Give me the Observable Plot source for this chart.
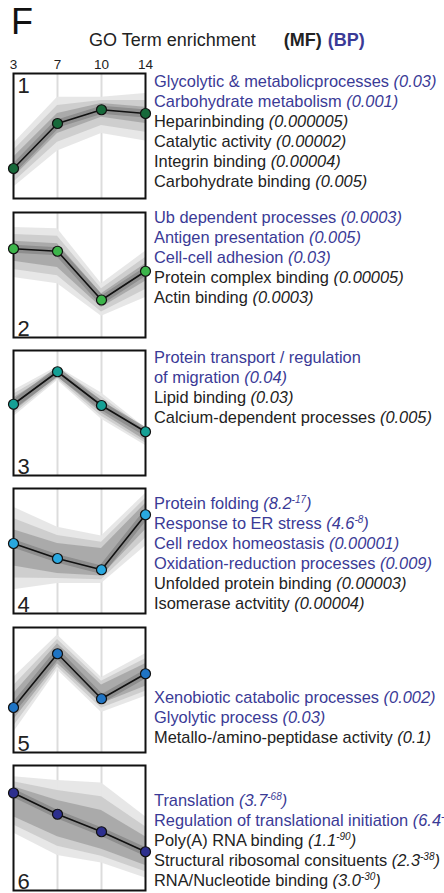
<!DOCTYPE html>
<html><head><meta charset="utf-8">
<script src="https://cdn.jsdelivr.net/npm/d3@7"></script>
<script src="https://cdn.jsdelivr.net/npm/@observablehq/plot@0.6"></script>
<style>
body{margin:0;background:#fff;font-family:"Liberation Sans",Arial,sans-serif;}
#wrap{position:relative;width:444px;height:893px;overflow:hidden;}
.abs{position:absolute;}
.lbl{position:absolute;left:154px;font-size:16.4px;line-height:20px;white-space:nowrap;color:#222;}
.bp{color:#3a3a96;}
.p{font-style:italic;}
sup{font-size:10px;vertical-align:6px;line-height:0;}
#F{left:11px;top:1px;font-size:36px;color:#111;}
#title{left:89px;top:30px;font-size:18px;color:#222;white-space:nowrap;}
#title b{margin-left:28px;}
#title b.bp{color:#3a3a96;margin-left:6px;}
</style></head>
<body><div id="wrap">
<div id="F" class="abs">F</div>
<div id="title" class="abs">GO Term enrichment<b>(MF)</b><b class="bp">(BP)</b></div>
</div>
<script>
const days = ["3","7","10","14"];
const panelNumbers = ["1","2","3","4","5","6"];
const dotColors = ["#17693a","#3cb54a","#15a095","#29a8e0","#1f74c4","#2d2f8e"];
// centroid profile per cluster (normalized 0..1)
const profiles = [
  [0.24,0.60,0.71,0.68],
  [0.71,0.69,0.30,0.53],
  [0.57,0.83,0.56,0.35],
  [0.56,0.44,0.35,0.79],
  [0.36,0.79,0.43,0.63],
  [0.78,0.61,0.47,0.31]
];
// envelope of member profiles (outer = faint, inner = dense)
const outerLow = [
  [0.09,0.38,0.52,0.46],
  [0.48,0.43,0.17,0.32],
  [0.47,0.76,0.45,0.24],
  [0.19,0.24,0.24,0.54],
  [0.16,0.66,0.32,0.45],
  [0.46,0.28,0.22,0.10]
];
const outerHigh = [
  [0.44,0.81,0.81,0.84],
  [0.88,0.87,0.43,0.69],
  [0.68,0.87,0.66,0.38],
  [0.85,0.69,0.62,0.96],
  [0.60,0.94,0.60,0.79],
  [0.91,0.88,0.86,0.59]
];
const innerLow = [
  [0.17,0.52,0.65,0.60],
  [0.61,0.56,0.24,0.45],
  [0.51,0.79,0.50,0.28],
  [0.38,0.32,0.30,0.67],
  [0.26,0.71,0.39,0.53],
  [0.59,0.43,0.33,0.20]
];
const innerHigh = [
  [0.33,0.68,0.76,0.73],
  [0.77,0.75,0.35,0.59],
  [0.62,0.84,0.60,0.36],
  [0.67,0.56,0.52,0.88],
  [0.47,0.87,0.54,0.71],
  [0.83,0.72,0.64,0.43]
];
// GO terms: [category, name, p-value] ; "^" marks exponent
const terms = [
  [["BP","Glycolytic & metabolicprocesses","0.03"],["BP","Carbohydrate metabolism","0.001"],["MF","Heparinbinding","0.000005"],["MF","Catalytic activity","0.00002"],["MF","Integrin binding","0.00004"],["MF","Carbohydrate binding","0.005"]],
  [["BP","Ub dependent processes","0.0003"],["BP","Antigen presentation","0.005"],["BP","Cell-cell adhesion","0.03"],["MF","Protein complex binding","0.00005"],["MF","Actin binding","0.0003"]],
  [["BP","Protein transport / regulation",null],["BP","of migration","0.04"],["MF","Lipid binding","0.03"],["MF","Calcium-dependent processes","0.005"]],
  [["BP","Protein folding","8.2^-17"],["BP","Response to ER stress","4.6^-8"],["BP","Cell redox homeostasis","0.00001"],["BP","Oxidation-reduction processes","0.009"],["MF","Unfolded protein binding","0.00003"],["MF","Isomerase actvitity","0.00004"]],
  [["BP","Xenobiotic catabolic processes","0.002"],["BP","Glyolytic process","0.03"],["MF","Metallo-/amino-peptidase activity","0.1"]],
  [["BP","Translation","3.7^-68"],["BP","Regulation of translational initiation","6.4^-9"],["MF","Poly(A) RNA binding","1.1^-90"],["MF","Structural ribosomal consituents","2.3^-38"],["MF","RNA/Nucleotide binding","3.0^-30"]]
];

const wrap = document.getElementById("wrap");
const panelTop = [73,212,350,488,627,765];
const textBaseline = [86,222,362,508,702,805];
const PW = 132, PH = 125, M = 8;

profiles.forEach((prof, i) => {
  const rows = days.map((d, k) => ({day: d, v: prof[k], olo: outerLow[i][k], ohi: outerHigh[i][k], ilo: innerLow[i][k], ihi: innerHigh[i][k],
    mlo: (outerLow[i][k] + innerLow[i][k]) / 2, mhi: (outerHigh[i][k] + innerHigh[i][k]) / 2}));
  const top = i === 0 ? 24 : M;
  const chart = Plot.plot({
    width: PW + 2*M, height: PH + top + M,
    marginLeft: M, marginRight: M, marginTop: top, marginBottom: M,
    style: {background: "transparent", overflow: "visible", fontFamily: "Liberation Sans, Arial, sans-serif", color: "#222"},
    x: {type: "point", domain: days, padding: 0, label: null},
    y: {domain: [0, 1], axis: null},
    marks: [
      i === 0 ? Plot.axisX({anchor: "top", tickSize: 0, tickPadding: 5, fontSize: 13.5, fill: "#222", label: null}) : Plot.axisX([], {}),
      Plot.ruleX(["7","10"], {stroke: "#dcdcdc", strokeWidth: 2}),
      Plot.areaY(rows, {x: "day", y1: "olo", y2: "ohi", fill: "#e6e6e6", fillOpacity: 0.95}),
      Plot.areaY(rows, {x: "day", y1: "mlo", y2: "mhi", fill: "#cbcbcb", fillOpacity: 0.9}),
      Plot.areaY(rows, {x: "day", y1: "ilo", y2: "ihi", fill: "#a6a6a6", fillOpacity: 0.9}),
      Plot.line(rows, {x: "day", y: "v", stroke: "#777", strokeWidth: 8, strokeOpacity: 0.55}),
      Plot.line(rows, {x: "day", y: "v", stroke: "#111", strokeWidth: 1.6}),
      Plot.frame({stroke: "#111", strokeWidth: 2}),
      Plot.dot(rows, {x: "day", y: "v", r: 5, fill: dotColors[i], stroke: "#111", strokeWidth: 1.2}),
      Plot.text([panelNumbers[i]], {text: d => d, frameAnchor: i === 0 ? "top-left" : "bottom-left", dx: 4, dy: i === 0 ? 4 : -2, fontSize: 22, fill: "#222"})
    ]
  });
  chart.style.position = "absolute";
  chart.style.left = (13 - M) + "px";
  chart.style.top = (panelTop[i] - top) + "px";
  wrap.appendChild(chart);

  const div = document.createElement("div");
  div.className = "lbl";
  div.style.top = (textBaseline[i] - 15) + "px";
  div.innerHTML = terms[i].map(([cat, name, p]) => {
    let ps = "";
    if (p) {
      const [m, e] = p.split("^");
      ps = " <span class='p'>(" + m + (e ? "<sup>" + e + "</sup>" : "") + ")</span>";
    }
    return "<div class='" + (cat === "BP" ? "bp" : "") + "'>" + name + ps + "</div>";
  }).join("");
  wrap.appendChild(div);
});
</script>
</body></html>
